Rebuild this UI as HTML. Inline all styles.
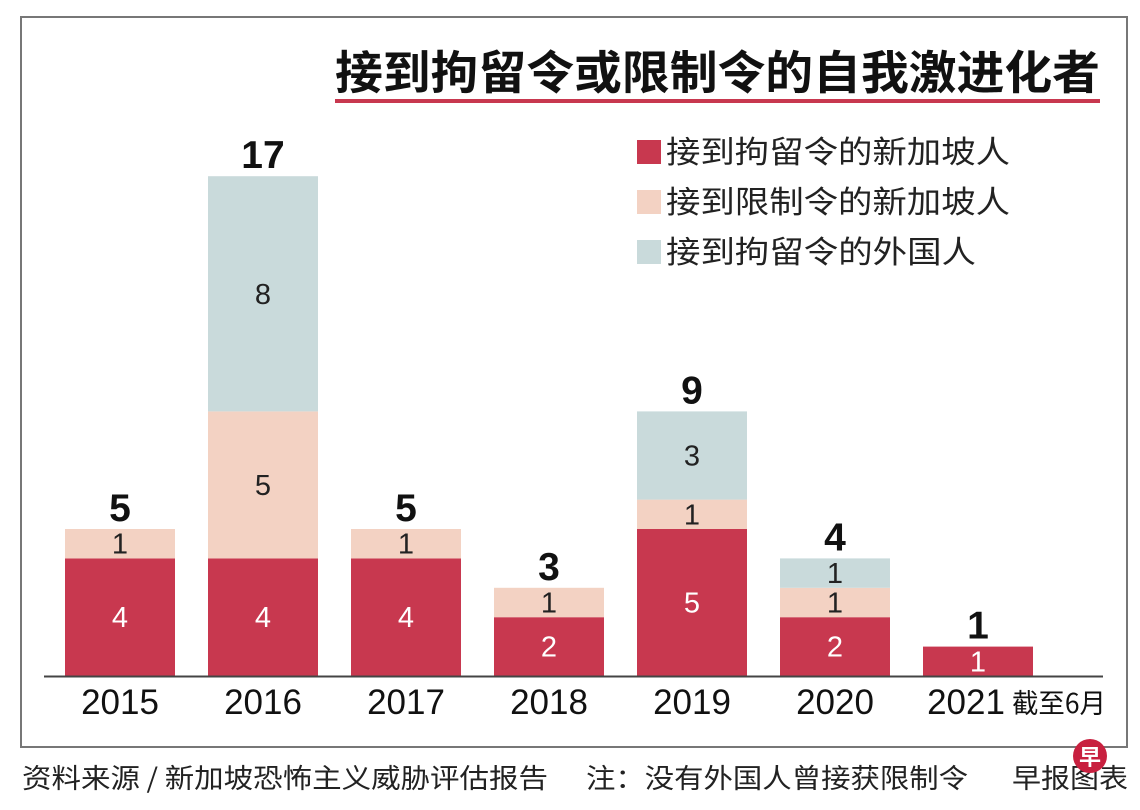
<!DOCTYPE html>
<html><head><meta charset="utf-8">
<style>
body{margin:0;background:#fff;width:1140px;height:805px;overflow:hidden;font-family:"Liberation Sans","Noto Sans CJK SC",sans-serif}
</style></head>
<body>
<svg id="chart" width="1140" height="805" xmlns="http://www.w3.org/2000/svg" style="font-family:'Liberation Sans','Noto Sans CJK SC',sans-serif">
<rect x="21" y="17" width="1106" height="730" fill="none" stroke="#777" stroke-width="2"/>
<text x="335" y="89" textLength="765" lengthAdjust="spacingAndGlyphs" font-size="46" font-weight="bold" fill="#111" font-family="'Noto Sans CJK SC',sans-serif">接到拘留令或限制令的自我激进化者</text>
<rect x="335" y="99" width="765" height="4" fill="#c8384f"/>
<g font-size="31" fill="#222" font-family="'Noto Sans CJK SC',sans-serif">
<rect x="637" y="140" width="24" height="24" fill="#c8384f"/>
<text x="666" y="163" textLength="344" lengthAdjust="spacingAndGlyphs">接到拘留令的新加坡人</text>
<rect x="637" y="190" width="24" height="24" fill="#f3d2c3"/>
<text x="666" y="213" textLength="344" lengthAdjust="spacingAndGlyphs">接到限制令的新加坡人</text>
<rect x="637" y="240" width="24" height="24" fill="#c9dadb"/>
<text x="666" y="263" textLength="310" lengthAdjust="spacingAndGlyphs">接到拘留令的外国人</text>
</g>
<g id="bars"></g>
<line x1="44" y1="676.5" x2="1103" y2="676.5" stroke="#444" stroke-width="2"/>
<g id="xlabels"></g>
<text x="22" y="788" font-size="27" textLength="526" lengthAdjust="spacingAndGlyphs" fill="#222" font-family="'Noto Sans CJK SC',sans-serif">资料来源 / 新加坡恐怖主义威胁评估报告</text>
<text x="586" y="788" font-size="27" textLength="382" lengthAdjust="spacingAndGlyphs" fill="#222" font-family="'Noto Sans CJK SC',sans-serif">注：没有外国人曾接获限制令</text>
<text x="1012" y="788" font-size="27" textLength="116" lengthAdjust="spacingAndGlyphs" fill="#222" font-family="'Noto Sans CJK SC',sans-serif">早报图表</text>
<circle cx="1090" cy="756" r="17" fill="#c8203f"/>
<text x="1090" y="765" text-anchor="middle" font-size="22" font-weight="bold" fill="#fff" font-family="'Noto Sans CJK SC',sans-serif">早</text>
</svg>
<script>
const categories=["2015","2016","2017","2018","2019","2020","2021"];
const detainedSg=[4,4,4,2,5,2,1];
const restrictedSg=[1,5,1,1,1,1,0];
const detainedForeign=[0,8,0,0,3,1,0];
const seriesColors=["#c8384f","#f3d2c3","#c9dadb"];
const ns="http://www.w3.org/2000/svg";
const baseY=676, unit=29.4, x0=65, step=143, bw=110;
const xPos=i=>x0+i*step;
const yPos=v=>baseY-v*unit;
const bars=document.getElementById('bars');
const xl=document.getElementById('xlabels');
const series=[detainedSg,restrictedSg,detainedForeign];
const names=["detained-sg","restricted-sg","detained-foreign"];
categories.forEach((c,i)=>{
  let cum=0;
  series.forEach((s,k)=>{
    const v=s[i]; if(!v) return;
    const r=document.createElementNS(ns,'rect');
    
    
    r.setAttribute('x',xPos(i));r.setAttribute('width',bw);
    r.setAttribute('y',yPos(cum+v));r.setAttribute('height',v*unit);
    r.setAttribute('fill',seriesColors[k]);
    bars.appendChild(r);
    const t=document.createElementNS(ns,'text');
    
    
    t.setAttribute('x',xPos(i)+bw/2);t.setAttribute('y',yPos(cum+v/2)+10);
    t.setAttribute('text-anchor','middle');t.setAttribute('font-size','29');
    t.setAttribute('fill',k==0?'#fff':'#222');
    t.textContent=v;bars.appendChild(t);
    cum+=v;
  });
  const tt=document.createElementNS(ns,'text');
  
  
  tt.setAttribute('x',xPos(i)+bw/2);tt.setAttribute('y',yPos(cum)-8);
  tt.setAttribute('text-anchor','middle');tt.setAttribute('font-size','39');tt.setAttribute('font-weight','bold');tt.setAttribute('fill','#111');
  tt.textContent=cum;bars.appendChild(tt);
  const l=document.createElementNS(ns,'text');
  
  
  const last=(i===categories.length-1);
  l.setAttribute('x',xPos(i)+bw/2-(last?12:0));l.setAttribute('y',714);
  l.setAttribute('text-anchor','middle');l.setAttribute('font-size','35');l.setAttribute('fill','#111');
  l.textContent=c;xl.appendChild(l);
});
const n=document.createElementNS(ns,'text');


n.setAttribute('x',1012);n.setAttribute('y',713);n.setAttribute('font-size','27');n.setAttribute('fill','#111');
n.setAttribute('textLength','94');n.setAttribute('lengthAdjust','spacingAndGlyphs');
n.setAttribute('font-family',"'Noto Sans CJK SC',sans-serif");
n.textContent='截至6月';xl.appendChild(n);
</script>
</body></html>
